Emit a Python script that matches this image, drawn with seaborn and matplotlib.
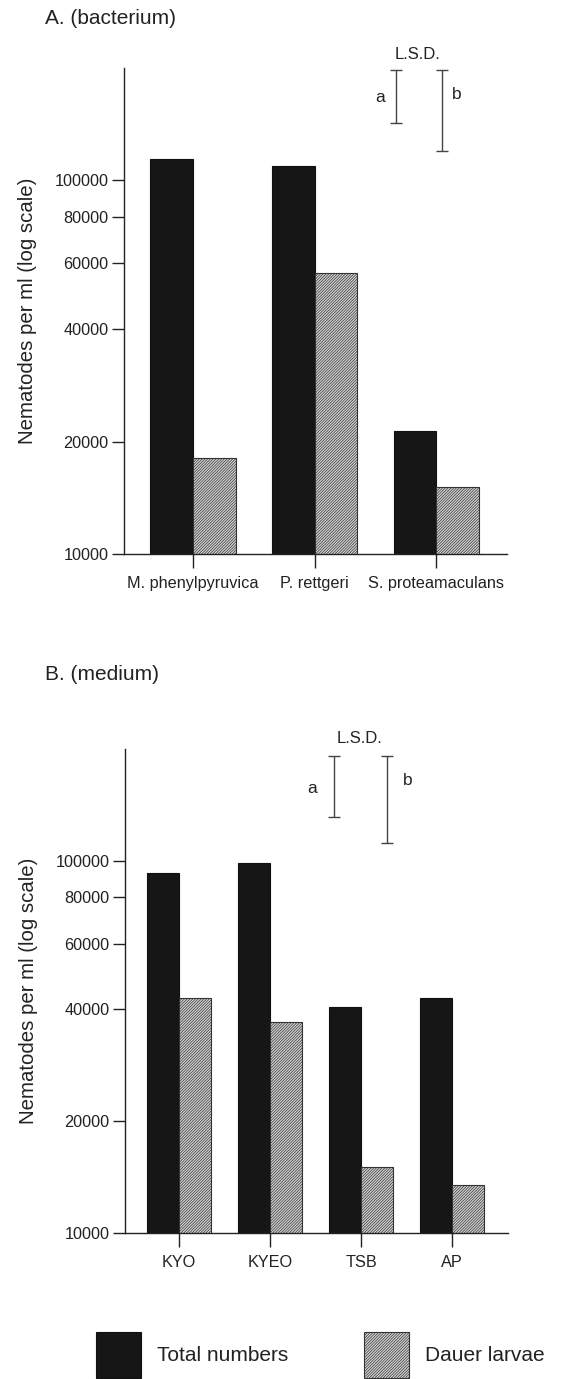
import matplotlib
matplotlib.use("Agg")
import matplotlib.pyplot as plt
from matplotlib.patches import Patch
from matplotlib.ticker import FixedLocator, NullLocator
import seaborn as sns
import pandas as pd

# data
series = ["Total numbers", "Dauer larvae"]

bacteria = ["M. phenylpyruvica", "P. rettgeri", "S. proteamaculans"]
bact_total = [114000, 109000, 21400]
bact_dauer = [18100, 56600, 15100]

media = ["KYO", "KYEO", "TSB", "AP"]
media_total = [93000, 99000, 40400, 42900]
media_dauer = [42700, 37000, 15000, 13500]

# L.S.D. bars (bottom, top)
bact_lsd_a = (142300, 197600)
bact_lsd_b = (119700, 197600)
media_lsd_a = (131200, 191100)
media_lsd_b = (111700, 191100)

yticks = [10000, 20000, 40000, 60000, 80000, 100000]

sns.set_style("ticks")
plt.rcParams["font.family"] = ["Liberation Sans", "DejaVu Sans"]
plt.rcParams["hatch.linewidth"] = 0.5

palette = {"Total numbers": "#161616", "Dauer larvae": "#d4d4d4"}
INK = "#222222"
HATCH = "////////////"


def long_df(cats, total, dauer):
    return pd.DataFrame({
        "group": cats * 2,
        "series": [series[0]] * len(cats) + [series[1]] * len(cats),
        "value": total + dauer,
    })


def draw_panel(ax, cats, total, dauer, xlim, lsd_a, lsd_b, lsd_x, text_pos):
    df = long_df(cats, total, dauer)
    sns.barplot(data=df, x="group", y="value", hue="series", hue_order=series,
                palette=palette, width=0.7, gap=0, edgecolor="#111111",
                linewidth=0.8, saturation=1, legend=False, ax=ax)
    for p in ax.containers[1]:
        p.set_hatch(HATCH)
        p.set_edgecolor("#333333")
    ax.set_yscale("log")
    ax.set_ylim(10000, 200000)
    ax.set_xlim(*xlim)
    ax.yaxis.set_major_locator(FixedLocator(yticks))
    ax.yaxis.set_minor_locator(NullLocator())
    ax.set_yticklabels([str(t) for t in yticks])
    ax.set_xlabel("")
    ax.set_ylabel("Nematodes per ml (log scale)", fontsize=14.7, color=INK)
    ax.yaxis.set_label_coords(-0.227, 0.5)
    ax.tick_params(axis="y", length=9, width=1, labelsize=11.7, colors=INK, pad=2)
    ax.tick_params(axis="x", length=10, width=1, labelsize=11.7, colors=INK, pad=6)
    sns.despine(ax=ax)
    for s in ("left", "bottom"):
        ax.spines[s].set_color(INK)
        ax.spines[s].set_linewidth(1)

    # L.S.D. markers
    for x, (lo, hi) in zip(lsd_x, (lsd_a, lsd_b)):
        ax.errorbar([x], [hi], yerr=[[hi - lo], [0]], fmt="none",
                    ecolor="#444444", elinewidth=1, capsize=4, capthick=1,
                    clip_on=False)
    (lx, ly), (ax_, ay), (bx, by) = text_pos
    ax.text(lx, ly, "L.S.D.", ha="center", va="center", fontsize=12,
            color=INK, clip_on=False)
    ax.text(ax_, ay, "a", ha="center", va="center", fontsize=12.5, color=INK)
    ax.text(bx, by, "b", ha="center", va="center", fontsize=12.5, color=INK)


fig = plt.figure(figsize=(5.64, 13.79), dpi=100)
W, H = 564, 1379

axA = fig.add_axes([124 / W, 1 - 554 / H, 383 / W, 486 / H])
draw_panel(axA, bacteria, bact_total, bact_dauer, (-0.568, 2.584),
           bact_lsd_a, bact_lsd_b, (1.67, 2.045),
           ((1.85, 216800), (1.54, 167200), (2.17, 170300)))

axB = fig.add_axes([125 / W, 1 - 1233 / H, 383 / W, 484 / H])
draw_panel(axB, media, media_total, media_dauer, (-0.593, 3.615),
           media_lsd_a, media_lsd_b, (1.70, 2.29),
           ((1.98, 213600), (1.46, 157000), (2.51, 164900)))

fig.text(45 / W, 1 - 18 / H, "A. (bacterium)", fontsize=15, color=INK,
         ha="left", va="center")
fig.text(45 / W, 1 - 674 / H, "B. (medium)", fontsize=15, color=INK,
         ha="left", va="center")

handles = [
    Patch(facecolor=palette[series[0]], edgecolor="#111111", linewidth=0.8),
    Patch(facecolor=palette[series[1]], edgecolor="#333333", linewidth=0.8,
          hatch=HATCH),
]
fig.legend(handles, series, loc="center", bbox_to_anchor=(0.568, 1 - 1355 / H),
           ncol=2, frameon=False, fontsize=15, handlelength=2.16,
           handleheight=2.95, handletextpad=0.77, columnspacing=3.6,
           labelcolor=INK)

fig.savefig("out.png", dpi=100)
